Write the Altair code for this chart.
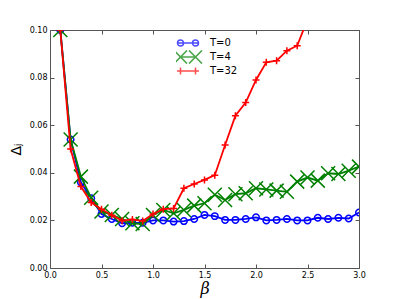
import altair as alt
import pandas as pd

beta = [round(0.1 * i, 1) for i in range(1, 31)]
t0 = [0.100, 0.054, 0.036, 0.0293, 0.0227, 0.0206, 0.0188, 0.019, 0.019, 0.020,
      0.020, 0.0195, 0.0197, 0.0206, 0.0223, 0.0218, 0.0202, 0.0202, 0.0206, 0.0213,
      0.020, 0.0202, 0.0206, 0.020, 0.020, 0.0211, 0.0206, 0.0211, 0.0208, 0.0233]
t4 = [0.100, 0.054, 0.0384, 0.0295, 0.0237, 0.0223, 0.0206, 0.0188, 0.0185, 0.0223,
      0.0244, 0.023, 0.0244, 0.0262, 0.0272, 0.0308, 0.0286, 0.031, 0.0314, 0.0335,
      0.033, 0.0325, 0.032, 0.0363, 0.038, 0.0367, 0.0398, 0.0395, 0.0409, 0.0426]
t32 = [0.100, 0.050, 0.0342, 0.0275, 0.0247, 0.0222, 0.0199, 0.0204, 0.0197, 0.0227,
       0.0247, 0.025, 0.0335, 0.0353, 0.037, 0.039, 0.0517, 0.064, 0.0695, 0.079,
       0.0864, 0.0871, 0.0913, 0.0934, 0.1044]
series_names = ["T=0", "T=4", "T=32"]
series_colors = ["#0000ff", "#008000", "#ff0000"]
x_ticks = [0.0, 0.5, 1.0, 1.5, 2.0, 2.5, 3.0]
y_ticks = [0.00, 0.02, 0.04, 0.06, 0.08, 0.10]

rows = []
for name, vals in zip(series_names, [t0, t4, t32]):
    for b, v in zip(beta, vals):
        rows.append({"beta": b, "delta": v, "series": name})
df = pd.DataFrame(rows)

xs = alt.Scale(domain=[0, 3], nice=False, zero=False)
ys = alt.Scale(domain=[0, 0.1], nice=False, zero=False)

marker_paths = {
    "T=0": "circle",
    "T=4": "M-1,-1L1,1M-1,1L1,-1",
    "T=32": "M-1,0L1,0M0,-1L0,1",
}
marker_sizes = {"T=0": 42, "T=4": 196, "T=32": 49}

legend_paths = [
    "M-1.76,0L1.76,0M-0.72,0A0.48,0.48 0 1,0 -1.68,0A0.48,0.48 0 1,0 -0.72,0"
    "M1.68,0A0.48,0.48 0 1,0 0.72,0A0.48,0.48 0 1,0 1.68,0",
    "M-1.2,0L1.2,0M-2.24,-1.06L-0.16,1.06M-2.24,1.06L-0.16,-1.06"
    "M0.16,-1.06L2.24,1.06M0.16,1.06L2.24,-1.06",
    "M-1.76,0L1.76,0M-1.2,-0.56L-1.2,0.56M1.2,-0.56L1.2,0.56",
]

main_x_axis = alt.Axis(orient="bottom", values=x_ticks, format=".1f", offset=-4, tickSize=4,
                       labelPadding=3, labelFlush=False, domain=False, grid=False, title="β",
                       titleFont="DejaVu Serif", titleFontStyle="italic", titleFontSize=16,
                       titleFontWeight="normal", titlePadding=1)
main_y_axis = alt.Axis(orient="left", values=y_ticks, format=".2f", offset=-4, tickSize=4,
                       labelPadding=3, labelFlush=False, domain=False, grid=False, title="Δⱼ",
                       titleFont="DejaVu Sans", titleFontSize=14, titleFontWeight="normal",
                       titlePadding=6)
sec_x_axis = alt.Axis(orient="top", values=x_ticks, offset=-4, tickSize=4, labels=False,
                      domain=False, grid=False, title=None)
sec_y_axis = alt.Axis(orient="right", values=y_ticks, offset=-4, tickSize=4, labels=False,
                      domain=False, grid=False, title=None)

layers = []
first = True
for name, color in zip(series_names, series_colors):
    sub = df[df["series"] == name]
    if first:
        xa, ya = main_x_axis, main_y_axis
    else:
        xa, ya = None, None
    line = alt.Chart(sub).mark_line(color=color, strokeWidth=1.8, clip=True).encode(
        x=alt.X("beta:Q", scale=xs, axis=xa),
        y=alt.Y("delta:Q", scale=ys, axis=ya),
    )
    first = False
    pts = alt.Chart(sub).mark_point(shape=marker_paths[name], size=marker_sizes[name],
                                    filled=False, color=color, strokeWidth=1.5,
                                    opacity=1, clip=True).encode(
        x=alt.X("beta:Q", scale=xs, axis=None),
        y=alt.Y("delta:Q", scale=ys, axis=None),
    )
    layers += [line, pts]

legend_def = alt.Legend(title=None, orient="none", legendX=126, legendY=6,
                        symbolSize=156, symbolStrokeWidth=1.5, rowPadding=0, clipHeight=14,
                        symbolOffset=5, labelOffset=15, labelFontSize=10,
                        labelFont="DejaVu Sans", labelColor="#000000", padding=0,
                        symbolFillColor="transparent")

legend_layer = alt.Chart(df).mark_point(filled=False, size=0, clip=True).encode(
    x=alt.X("beta:Q", scale=xs, axis=sec_x_axis),
    y=alt.Y("delta:Q", scale=ys, axis=sec_y_axis),
    color=alt.Color("series:N", scale=alt.Scale(domain=series_names, range=series_colors),
                    legend=legend_def),
    shape=alt.Shape("series:N", scale=alt.Scale(domain=series_names, range=legend_paths),
                    legend=legend_def),
)
layers.append(legend_layer)

chart = alt.layer(*layers).resolve_axis(x="independent", y="independent").properties(
    width=309, height=238,
    autosize=alt.AutoSizeParams(type="none"),
    padding={"left": 42, "top": 22, "right": 32, "bottom": 31},
).configure_view(stroke="#555555", strokeWidth=1).configure_axis(
    tickColor="#555555", labelColor="#000000", labelFont="DejaVu Sans", labelFontSize=8,
    titleColor="#000000"
)

chart.save("out.html", embed_options={"renderer": "svg", "actions": False})
